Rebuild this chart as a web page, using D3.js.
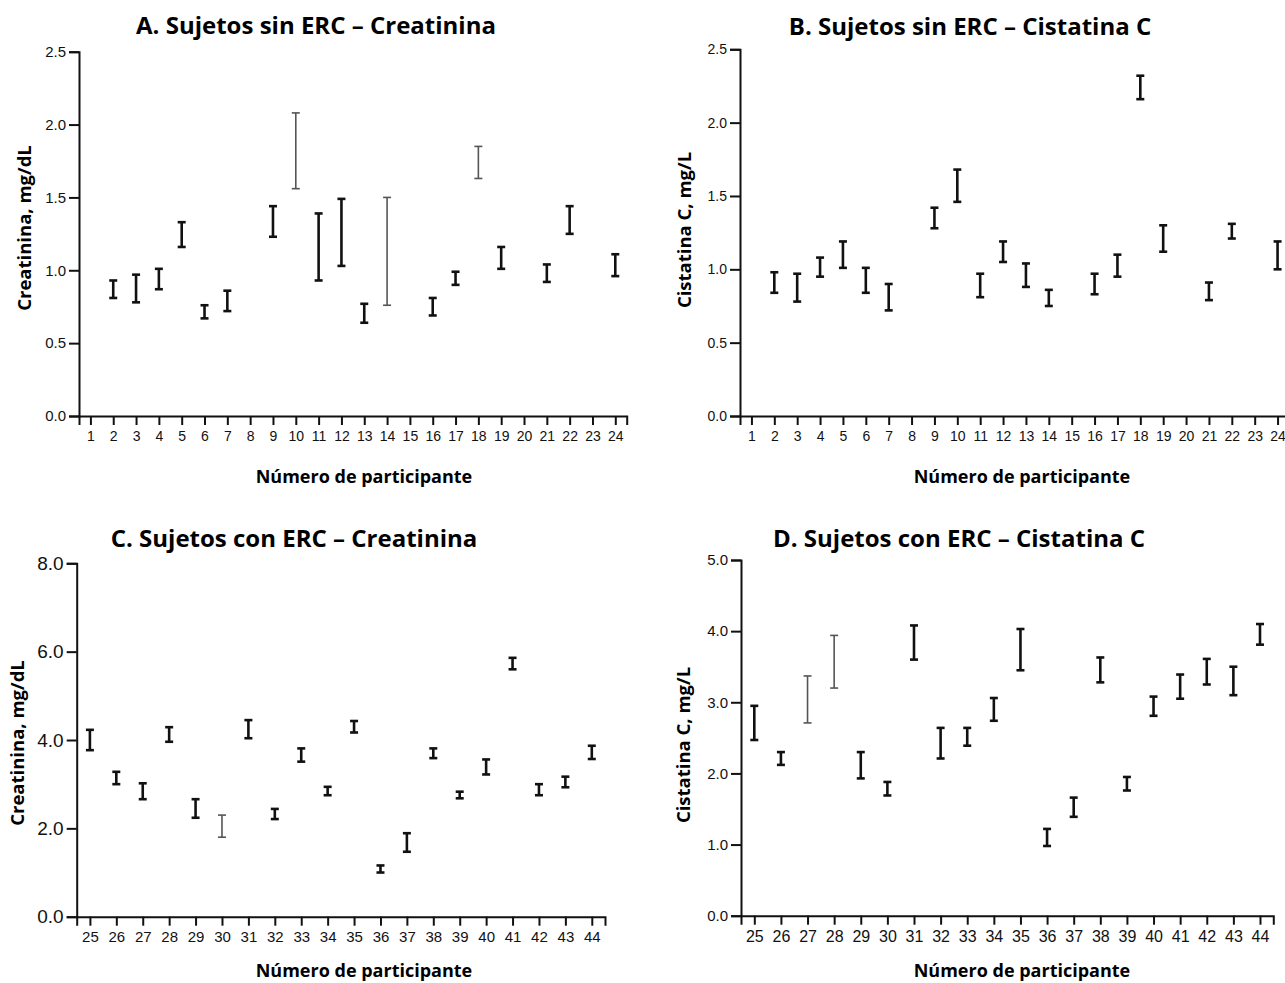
<!DOCTYPE html>
<html>
<head>
<meta charset="utf-8">
<script src="https://cdn.jsdelivr.net/npm/d3@7"></script>
<style>
    body { margin: 0; background: #fff; }
    .title { font-family: "Open Sans", "Noto Sans", sans-serif; font-weight: 700; }
    .label { font-family: "Open Sans", "Noto Sans", sans-serif; font-weight: 700; }
    .axis text { font-family: "Liberation Sans", Arial, sans-serif; fill: #111; }
    .axis path, .axis line { stroke: #111; stroke-width: 2; }
</style>
</head>
<body>
<div id="chart"></div>
<script>
// participants 1-24: sin ERC, 25-44: con ERC
var idsSin = [2, 3, 4, 5, 6, 7, 9, 10, 11, 12, 13, 14, 16, 17, 18, 19, 21, 22, 24];
var ticksSin = d3.range(1, 25);

var creaSinLo = [0.81, 0.78, 0.87, 1.16, 0.67, 0.72, 1.23, 1.56, 0.93, 1.03, 0.64, 0.76, 0.69, 0.90, 1.63, 1.01, 0.92, 1.25, 0.96];
var creaSinHi = [0.93, 0.97, 1.01, 1.33, 0.76, 0.86, 1.44, 2.08, 1.39, 1.49, 0.77, 1.50, 0.81, 0.99, 1.85, 1.16, 1.04, 1.44, 1.11];
var creaSinGray = [10, 14, 18];

var cisSinLo = [0.84, 0.78, 0.95, 1.01, 0.84, 0.72, 1.28, 1.46, 0.81, 1.05, 0.88, 0.75, 0.83, 0.95, 2.16, 1.12, 0.79, 1.21, 1.00];
var cisSinHi = [0.98, 0.97, 1.08, 1.19, 1.01, 0.90, 1.42, 1.68, 0.97, 1.19, 1.04, 0.86, 0.97, 1.10, 2.32, 1.30, 0.91, 1.31, 1.19];
var cisSinGray = [];

var idsCon = d3.range(25, 45);

var creaConLo = [3.77, 3.00, 2.66, 3.96, 2.24, 1.80, 4.04, 2.21, 3.51, 2.75, 4.17, 1.00, 1.47, 3.59, 2.68, 3.22, 5.60, 2.75, 2.93, 3.57];
var creaConHi = [4.23, 3.28, 3.02, 4.29, 2.66, 2.30, 4.45, 2.44, 3.81, 2.94, 4.43, 1.16, 1.89, 3.81, 2.83, 3.56, 5.86, 3.00, 3.17, 3.87];
var creaConGray = [30];

var cisConLo = [2.47, 2.12, 2.71, 3.20, 1.93, 1.69, 3.60, 2.21, 2.39, 2.74, 3.45, 0.98, 1.39, 3.28, 1.76, 2.81, 3.05, 3.25, 3.10, 3.81];
var cisConHi = [2.95, 2.30, 3.37, 3.94, 2.30, 1.88, 4.08, 2.64, 2.64, 3.06, 4.03, 1.22, 1.66, 3.63, 1.95, 3.08, 3.39, 3.61, 3.50, 4.10];
var cisConGray = [27, 28];

var width = 1285;
var height = 983;

var svg = d3.select("#chart").
    append("svg").
    attr("width", width).
    attr("height", height);

var panels = [
    {
        title: "A. Sujetos sin ERC \u2013 Creatinina", ylabel: "Creatinina, mg/dL",
        ids: idsSin, ticks: ticksSin, lo: creaSinLo, hi: creaSinHi, gray: creaSinGray,
        xd: [0.5, 24.5], yd: [0, 2.5], yticks: [0, 0.5, 1, 1.5, 2, 2.5],
        left: 79, right: 626.7, top: 51.7, bottom: 416,
        titleX: 316, titleY: 34, ylabX: 25, ylabY: 228, xlabX: 364, xlabY: 483,
        ytSize: 15, xtSize: 14
    },
    {
        title: "B. Sujetos sin ERC \u2013 Cistatina C", ylabel: "Cistatina C, mg/L",
        ids: idsSin, ticks: ticksSin, lo: cisSinLo, hi: cisSinHi, gray: cisSinGray,
        xd: [0.5, 24.5], yd: [0, 2.5], yticks: [0, 0.5, 1, 1.5, 2, 2.5],
        left: 740, right: 1289, top: 49.3, bottom: 416,
        titleX: 970, titleY: 35, ylabX: 685, ylabY: 230, xlabX: 1022, xlabY: 483,
        ytSize: 14, xtSize: 14
    },
    {
        title: "C. Sujetos con ERC \u2013 Creatinina", ylabel: "Creatinina, mg/dL",
        ids: idsCon, ticks: idsCon, lo: creaConLo, hi: creaConHi, gray: creaConGray,
        xd: [24.5, 44.5], yd: [0, 8], yticks: [0, 2, 4, 6, 8],
        left: 76.7, right: 605, top: 563.3, bottom: 916.7,
        titleX: 294, titleY: 547, ylabX: 18, ylabY: 743, xlabX: 364, xlabY: 977,
        ytSize: 19, xtSize: 15
    },
    {
        title: "D. Sujetos con ERC \u2013 Cistatina C", ylabel: "Cistatina C, mg/L",
        ids: idsCon, ticks: idsCon, lo: cisConLo, hi: cisConHi, gray: cisConGray,
        xd: [24.5, 44.5], yd: [0, 5], yticks: [0, 1, 2, 3, 4, 5],
        left: 741, right: 1273.3, top: 560, bottom: 915.7,
        titleX: 959, titleY: 547, ylabX: 684, ylabY: 745, xlabX: 1022, xlabY: 977,
        ytSize: 15, xtSize: 16
    }
];

panels.forEach(function (p) {
    var g = svg.append("g");

    var xScale = d3.scaleLinear().
        domain(p.xd).
        range([p.left, p.right]);

    var yScale = d3.scaleLinear().
        domain(p.yd).
        range([p.bottom, p.top]);

    // axes
    var xAxis = d3.axisBottom(xScale).
        tickValues(p.ticks).
        tickFormat(d3.format("d")).
        tickSizeOuter(0).
        tickSize(9).
        tickPadding(6);

    var xg = g.append("g").
        attr("class", "axis").
        attr("transform", "translate(0," + p.bottom + ")").
        call(xAxis);
    xg.selectAll("text").style("font-size", p.xtSize + "px");

    var yAxis = d3.axisLeft(yScale).
        tickValues(p.yticks).
        tickFormat(d3.format(".1f")).
        tickSizeOuter(0).
        tickSize(10).
        tickPadding(3);

    var yg = g.append("g").
        attr("class", "axis").
        attr("transform", "translate(" + p.left + ",0)").
        call(yAxis);
    yg.selectAll("text").style("font-size", p.ytSize + "px");

    // error bars
    var rows = p.ids.map(function (id, i) {
        return { id: id, lo: p.lo[i], hi: p.hi[i], gray: p.gray.indexOf(id) >= 0 };
    });

    var bars = g.selectAll(".bar").
        data(rows).
        enter().
        append("g").
        attr("class", "bar").
        attr("stroke", function (d) { return d.gray ? "#555" : "#111"; }).
        attr("stroke-width", function (d) { return d.gray ? 1.6 : 2.6; });

    bars.append("line").
        attr("x1", function (d) { return xScale(d.id); }).
        attr("x2", function (d) { return xScale(d.id); }).
        attr("y1", function (d) { return yScale(d.lo); }).
        attr("y2", function (d) { return yScale(d.hi); });

    ["lo", "hi"].forEach(function (k) {
        bars.append("line").
            attr("x1", function (d) { return xScale(d.id) - 4; }).
            attr("x2", function (d) { return xScale(d.id) + 4; }).
            attr("y1", function (d) { return yScale(d[k]); }).
            attr("y2", function (d) { return yScale(d[k]); });
    });

    // texts
    g.append("text").
        attr("class", "title").
        attr("x", p.titleX).
        attr("y", p.titleY).
        attr("text-anchor", "middle").
        style("font-size", "24px").
        text(p.title);

    g.append("text").
        attr("class", "label").
        attr("transform", "translate(" + p.ylabX + "," + p.ylabY + ") rotate(-90)").
        attr("text-anchor", "middle").
        attr("dy", "0.35em").
        style("font-size", "18.5px").
        text(p.ylabel);

    g.append("text").
        attr("class", "label").
        attr("x", p.xlabX).
        attr("y", p.xlabY).
        attr("text-anchor", "middle").
        style("font-size", "18px").
        text("N\u00famero de participante");
});
</script>
</body>
</html>
